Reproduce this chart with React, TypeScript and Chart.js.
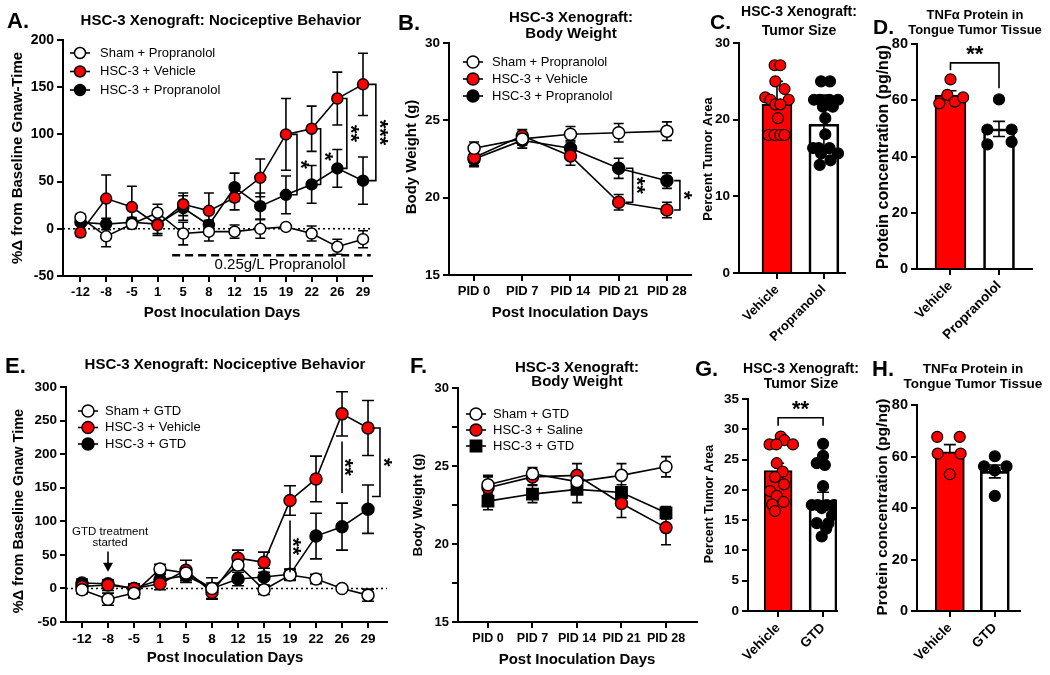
import { useEffect, useRef } from 'react';
import { Chart, registerables } from 'chart.js';

Chart.register(...registerables);

const FONT = "'Liberation Sans', Arial, Helvetica, sans-serif";
const RED = '#ff0000';
const WHITE = '#ffffff';
const BLACK = '#000000';
const CLEAR = 'rgba(0,0,0,0)';
const W = 1050;
const H = 675;
const YW = 50;

// ---------------- Panel A : nociceptive behaviour (propranolol) ----------------
const daysA = ['-12', '-8', '-5', '1', '5', '8', '12', '15', '19', '22', '26', '29'];
const aSham = [12, -8, 5, 17, -5, -3, -3, 0, 2, -5, -19, -11];
const aShamErr = [4, 11, 5, 9, 12, 10, 7, 10, 3, 8, 8, 9];
const aVeh = [-4, 32, 23, 4, 26, 19, 33, 54, 100, 106, 138, 153];
const aVehErr = [4, 25, 22, 11, 12, 19, 13, 20, 38, 24, 28, 33];
const aProp = [7, 5, 7, 5, 22, 4, 44, 24, 36, 47, 64, 51];
const aPropErr = [3, 6, 5, 10, 13, 5, 15, 14, 20, 20, 20, 25];

// ---------------- Panel B : body weight (propranolol) ----------------
const pidB = ['PID 0', 'PID 7', 'PID 14', 'PID 21', 'PID 28'];
const bSham = [23.2, 23.8, 24.1, 24.2, 24.3];
const bShamErr = [0.4, 0.4, 0.5, 0.6, 0.6];
const bVeh = [22.6, 24.0, 22.7, 19.7, 19.2];
const bVehErr = [0.5, 0.4, 0.6, 0.5, 0.5];
const bProp = [22.5, 23.7, 23.2, 21.9, 21.1];
const bPropErr = [0.5, 0.5, 0.5, 0.65, 0.5];

// ---------------- Panel C : tumor size (propranolol) ----------------
const groupsC = ['Vehicle', 'Propranolol'];
const cMeans = [22.0, 19.4];
const cErr = [3.0, 3.8];
const cVehVals = [27.1, 27.1, 25.0, 24.0, 22.9, 22.6, 22.6, 22.0, 22.0, 20.2, 18.0, 18.0, 18.0, 18.0];
const cVehJit = [-0.05, 0.07, -0.035, 0.16, -0.25, -0.14, 0.25, -0.035, 0.07, 0.02, -0.18, -0.05, 0.07, 0.16];
const cPropVals = [25.0, 25.0, 22.6, 22.6, 22.6, 22.6, 21.7, 21.7, 20.2, 18.1, 16.3, 16.3, 16.3, 15.6, 15.6, 14.7, 14.1];
const cPropJit = [-0.06, 0.13, -0.21, -0.09, 0.12, 0.3, -0.02, 0.19, 0.03, 0.03, -0.23, -0.11, 0.12, -0.06, 0.3, 0.14, -0.09];

// ---------------- Panel D : TNFa (propranolol) ----------------
const groupsD = ['Vehicle', 'Propranolol'];
const dMeans = [61.8, 49.8];
const dErr = [1.6, 2.7];
const dVehVals = [67.4, 58.9, 61.9, 59.5, 61.0];
const dVehJit = [0, -0.23, -0.065, 0.09, 0.26];
const dPropVals = [60.3, 49.6, 49.6, 44.3, 45.2];
const dPropJit = [0, -0.24, 0.26, -0.24, 0.26];

// ---------------- Panel E : nociceptive behaviour (GTD) ----------------
const daysE = ['-12', '-8', '-5', '1', '5', '8', '12', '15', '19', '22', '26', '29'];
const eSham = [-2, -16, -7, 29, 23, 0, 35, -2, 20, 14, 0, -10];
const eShamErr = [6, 9, 7, 7, 8, 8, 8, 7, 8, 7, 4, 9];
const eVeh = [3, 5, 0, 7, 27, -6, 45, 39, 131, 163, 260, 239];
const eVehErr = [8, 8, 7, 9, 15, 9, 12, 15, 22, 34, 33, 41];
const eGtd = [8, 7, 0, 13, 19, 0, 14, 17, 21, 78, 92, 118];
const eGtdErr = [6, 6, 6, 8, 10, 16, 10, 13, 8, 34, 35, 36];

// ---------------- Panel F : body weight (GTD) ----------------
const pidF = ['PID 0', 'PID 7', 'PID 14', 'PID 21', 'PID 28'];
const fSham = [23.8, 24.5, 24.0, 24.4, 24.95];
const fShamErr = [0.6, 0.4, 0.5, 0.75, 0.65];
const fSal = [23.6, 24.3, 24.4, 22.6, 21.05];
const fSalErr = [0.7, 0.5, 0.75, 0.9, 1.1];
const fGtd = [22.75, 23.2, 23.5, 23.3, 22.0];
const fGtdErr = [0.55, 0.55, 0.85, 0.5, 0.4];

// ---------------- Panel G : tumor size (GTD) ----------------
const groupsG = ['Vehicle', 'GTD'];
const gMeans = [23.2, 18.3];
const gErr = [1.2, 1.3];
const gVehVals = [28.8, 28.2, 27.5, 27.5, 27.5, 24.4, 23.0, 22.1, 20.9, 19.8, 19.0, 18.0, 17.6, 16.5];
const gVehJit = [0.06, 0.14, -0.19, -0.04, 0.33, -0.03, 0.1, -0.07, 0.13, -0.18, -0.03, 0.12, -0.13, -0.07];
const gGtdVals = [27.6, 25.6, 24.4, 24.1, 20.6, 17.5, 17.5, 17.5, 17.5, 17.0, 15.8, 14.5, 14.5, 13.6, 12.3];
const gGtdJit = [0, 0, -0.14, 0.04, 0, -0.25, -0.12, 0.08, 0.24, -0.03, 0.2, -0.14, 0.12, 0.07, -0.03];

// ---------------- Panel H : TNFa (GTD) ----------------
const groupsH = ['Vehicle', 'GTD'];
const hMeans = [61.8, 54.2];
const hErr = [2.8, 2.5];
const hVehVals = [67.6, 67.6, 61.1, 61.1, 53.1];
const hVehJit = [-0.28, 0.22, -0.27, 0.24, 0];
const hGtdVals = [60.1, 56.2, 56.2, 54.6, 44.7];
const hGtdJit = [0, -0.24, 0.26, 0, 0];

// ---------------- helpers ----------------
const fs = (size: number, bold = true) => `${bold ? 'bold ' : ''}${size}px ${FONT}`;
const fo = (size: number, bold = true) => ({ family: FONT, size, weight: bold ? 'bold' : 'normal' });

type Txt = {
  text: string; x: number; y: number; font: string;
  align?: CanvasTextAlign; baseline?: CanvasTextBaseline; rot?: number;
};
type VBr = { x0: number; x1: number; yTop: number; yBot: number; label: string; dx?: number };
type HBr = { xa: number; xb: number; y: number; ta: number; tb: number; label: string };
type Decor = {
  zeroLine?: boolean;
  cap?: number;
  vBrackets?: VBr[];
  hBrackets?: HBr[];
  dashes?: { xa: number; xb: number; y: number }[];
  dataTexts?: { text: string; x: number; y: number; font: string }[];
  arrows?: { x: number; y0: number; y1: number }[];
  legend?: { x: number; y: number; dy: number; tx: number; font: string };
  texts: Txt[];
};

const STAR = 22;
const STAR_SHIFT = 4.5;

function drawText(ctx: CanvasRenderingContext2D, t: Txt) {
  ctx.save();
  ctx.font = t.font;
  ctx.fillStyle = BLACK;
  ctx.textAlign = t.align ?? 'center';
  ctx.textBaseline = t.baseline ?? 'alphabetic';
  ctx.translate(t.x, t.y);
  if (t.rot) ctx.rotate(t.rot);
  ctx.fillText(t.text, 0, 0);
  ctx.restore();
}

function drawStars(ctx: CanvasRenderingContext2D, s: string, x: number, y: number, rotated: boolean) {
  if (rotated) {
    drawText(ctx, { text: s, x: x - STAR_SHIFT, y, font: fs(STAR), baseline: 'middle', rot: Math.PI / 2 });
  } else {
    drawText(ctx, { text: s, x, y: y + STAR_SHIFT, font: fs(STAR), baseline: 'middle' });
  }
}

function drawMarker(ctx: CanvasRenderingContext2D, x: number, y: number, style: string, fill: string, r: number) {
  ctx.save();
  ctx.fillStyle = fill;
  ctx.strokeStyle = BLACK;
  ctx.lineWidth = 1.5;
  ctx.beginPath();
  if (style === 'rect') {
    const s = r * Math.SQRT1_2;
    ctx.rect(x - s, y - s, 2 * s, 2 * s);
  } else {
    ctx.arc(x, y, r, 0, Math.PI * 2);
  }
  ctx.fill();
  ctx.stroke();
  ctx.restore();
}

function makeDecor(d: Decor) {
  return {
    id: 'decor',
    beforeDatasetsDraw(chart: any) {
      const ctx: CanvasRenderingContext2D = chart.ctx;
      const ys = chart.scales.y;
      const a = chart.chartArea;
      ctx.save();
      if (d.zeroLine) {
        const y0 = ys.getPixelForValue(0);
        ctx.setLineDash([2, 3]);
        ctx.lineWidth = 1.5;
        ctx.strokeStyle = BLACK;
        ctx.beginPath();
        ctx.moveTo(a.left, y0);
        ctx.lineTo(a.right, y0);
        ctx.stroke();
        ctx.setLineDash([]);
      }
      ctx.strokeStyle = BLACK;
      ctx.lineWidth = 1.6;
      const c = d.cap ?? 5;
      chart.data.datasets.forEach((ds: any, i: number) => {
        if (!ds.errors) return;
        const meta = chart.getDatasetMeta(i);
        meta.data.forEach((el: any, j: number) => {
          const v = ds.data[j].y;
          const e = ds.errors[j];
          const x = el.x;
          const yt = ys.getPixelForValue(v + e);
          const yb = ys.getPixelForValue(v - e);
          ctx.beginPath();
          ctx.moveTo(x, yt); ctx.lineTo(x, yb);
          ctx.moveTo(x - c, yt); ctx.lineTo(x + c, yt);
          ctx.moveTo(x - c, yb); ctx.lineTo(x + c, yb);
          ctx.stroke();
        });
      });
      ctx.restore();
    },
    afterDraw(chart: any) {
      const ctx: CanvasRenderingContext2D = chart.ctx;
      const px = (v: number) => chart.scales.x.getPixelForValue(v);
      const py = (v: number) => chart.scales.y.getPixelForValue(v);
      ctx.save();
      ctx.strokeStyle = BLACK;
      ctx.fillStyle = BLACK;
      ctx.lineWidth = 1.6;
      (d.dashes ?? []).forEach((s) => {
        ctx.save();
        ctx.setLineDash([8, 5]);
        ctx.lineWidth = 2.5;
        ctx.beginPath();
        ctx.moveTo(px(s.xa), py(s.y));
        ctx.lineTo(px(s.xb), py(s.y));
        ctx.stroke();
        ctx.restore();
      });
      (d.vBrackets ?? []).forEach((b) => {
        const x0 = px(b.x0), x1 = px(b.x1), yt = py(b.yTop), yb = py(b.yBot);
        ctx.beginPath();
        if (b.x0 !== b.x1) {
          ctx.moveTo(x0, yt); ctx.lineTo(x1, yt); ctx.lineTo(x1, yb); ctx.lineTo(x0, yb);
        } else {
          ctx.moveTo(x1, yt); ctx.lineTo(x1, yb);
        }
        ctx.stroke();
        drawStars(ctx, b.label, x1 + (b.dx ?? 8), (yt + yb) / 2, true);
      });
      (d.hBrackets ?? []).forEach((b) => {
        const xa = px(b.xa), xb = px(b.xb), y = py(b.y);
        ctx.beginPath();
        ctx.moveTo(xa, py(b.ta)); ctx.lineTo(xa, y); ctx.lineTo(xb, y); ctx.lineTo(xb, py(b.tb));
        ctx.stroke();
        drawStars(ctx, b.label, (xa + xb) / 2, y - 12, false);
      });
      (d.arrows ?? []).forEach((ar) => {
        const x = px(ar.x), y0 = py(ar.y0), y1 = py(ar.y1);
        ctx.beginPath();
        ctx.moveTo(x, y0); ctx.lineTo(x, y1 - 6);
        ctx.stroke();
        ctx.beginPath();
        ctx.moveTo(x - 5, y1 - 9); ctx.lineTo(x + 5, y1 - 9); ctx.lineTo(x, y1);
        ctx.closePath();
        ctx.fill();
      });
      (d.dataTexts ?? []).forEach((t) => {
        drawText(ctx, { text: t.text, x: px(t.x), y: py(t.y), font: t.font, baseline: 'middle' });
      });
      if (d.legend) {
        const L = d.legend;
        chart.data.datasets.forEach((ds: any, i: number) => {
          const y = L.y + i * L.dy;
          ctx.lineWidth = 1.6;
          ctx.strokeStyle = BLACK;
          ctx.beginPath();
          ctx.moveTo(L.x - 10, y); ctx.lineTo(L.x + 10, y);
          ctx.stroke();
          drawMarker(ctx, L.x, y, ds.pointStyle, ds.pointBackgroundColor, ds.pointRadius);
          drawText(ctx, { text: ds.label, x: L.tx, y, font: L.font, align: 'left', baseline: 'middle' });
        });
      }
      d.texts.forEach((t) => drawText(ctx, t));
      ctx.restore();
    },
  };
}

function lineDs(label: string, means: number[], errs: number[], fill: string, style = 'circle', r = 5.5) {
  return {
    type: 'line',
    label,
    data: means.map((v, i) => ({ x: i, y: v })),
    errors: errs,
    borderColor: BLACK,
    borderWidth: 1.6,
    pointBackgroundColor: fill,
    pointBorderColor: BLACK,
    pointBorderWidth: 1.5,
    pointRadius: r,
    pointStyle: style,
    fill: false,
    tension: 0,
  };
}

function barDs(means: number[], errs: number[], thickness: number) {
  return {
    type: 'bar',
    data: means.map((v, i) => ({ x: i, y: v })),
    errors: errs,
    backgroundColor: [RED, CLEAR],
    borderColor: BLACK,
    borderWidth: 2,
    barThickness: thickness,
    order: 2,
  };
}

function dotsDs(group: number, vals: number[], jit: number[], fill: string) {
  return {
    type: 'scatter',
    data: vals.map((v, i) => ({ x: group + jit[i], y: v })),
    pointRadius: 5.5,
    pointBackgroundColor: fill,
    pointBorderColor: BLACK,
    pointBorderWidth: 1.2,
    order: 1,
  };
}

type Panel = {
  type: 'line' | 'bar';
  area: { L: number; R: number; T: number; B: number };
  xh: number;
  xMin: number; xMax: number; xLabels: string[]; xRot: boolean; xFont: number;
  yMin: number; yMax: number; yStep: number; yFont: number; yMajor?: number;
  datasets: any[];
  decor: Decor;
};

function buildConfig(p: Panel): any {
  const grid = { display: true, drawOnChartArea: false, drawTicks: true, tickLength: 6, color: BLACK, lineWidth: 2, offset: false };
  const border = { display: true, color: BLACK, width: 2 };
  return {
    type: p.type,
    data: { datasets: p.datasets },
    options: {
      animation: false,
      responsive: false,
      events: [],
      layout: { padding: { left: p.area.L - YW, right: W - p.area.R, top: p.area.T, bottom: Math.max(0, H - p.area.B - p.xh) } },
      plugins: { legend: { display: false }, tooltip: { enabled: false }, title: { display: false } },
      scales: {
        x: {
          type: 'linear', min: p.xMin, max: p.xMax, offset: false,
          afterBuildTicks: (s: any) => { s.ticks = p.xLabels.map((_, i) => ({ value: i })); },
          afterFit: (s: any) => { s.height = p.xh; },
          ticks: {
            autoSkip: false, color: BLACK, font: fo(p.xFont), padding: 3,
            maxRotation: p.xRot ? 45 : 0, minRotation: p.xRot ? 45 : 0,
            callback: (v: number) => p.xLabels[Math.round(v)] ?? '',
          },
          grid, border,
        },
        y: {
          type: 'linear', min: p.yMin, max: p.yMax,
          afterFit: (s: any) => { s.width = YW; },
          ticks: {
            stepSize: p.yStep, color: BLACK, font: fo(p.yFont), padding: 3,
            callback: (v: number) => (p.yMajor && Math.abs(v % p.yMajor) > 1e-6 ? '' : String(v)),
          },
          grid, border,
        },
      },
    },
    plugins: [makeDecor(p.decor)],
  };
}

const ROT = -Math.PI / 2;

const panels: Panel[] = [
  // A
  {
    type: 'line', area: { L: 63, R: 372, T: 40, B: 276 }, xh: 40,
    xMin: -0.68, xMax: 11.35, xLabels: daysA, xRot: false, xFont: 13,
    yMin: -50, yMax: 200, yStep: 50, yFont: 14,
    datasets: [
      lineDs('Sham + Propranolol', aSham, aShamErr, WHITE),
      lineDs('HSC-3 + Vehicle', aVeh, aVehErr, RED),
      lineDs('HSC-3 + Propranolol', aProp, aPropErr, BLACK),
    ],
    decor: {
      zeroLine: true, cap: 5,
      dashes: [{ xa: 3.57, xb: 11.3, y: -28 }],
      dataTexts: [{ text: '0.25g/L Propranolol', x: 7.77, y: -38.5, font: fs(15, false) }],
      vBrackets: [
        { x0: 8.2, x1: 8.43, yTop: aVeh[8], yBot: aProp[8], label: '*' },
        { x0: 9.2, x1: 9.35, yTop: aVeh[9], yBot: aProp[9], label: '*' },
        { x0: 10.2, x1: 10.37, yTop: aVeh[10], yBot: aProp[10], label: '**' },
        { x0: 11.2, x1: 11.5, yTop: aVeh[11], yBot: aProp[11], label: '***' },
      ],
      legend: { x: 80, y: 53, dy: 18.5, tx: 100, font: fs(13, false) },
      texts: [
        { text: 'A.', x: 7, y: 28, font: fs(22), align: 'left' },
        { text: 'HSC-3 Xenograft: Nociceptive Behavior', x: 221, y: 25, font: fs(15) },
        { text: '%Δ from Baseline Gnaw-Time', x: 18, y: 158, font: fs(15), rot: ROT, baseline: 'middle' },
        { text: 'Post Inoculation Days', x: 222, y: 313, font: fs(15), baseline: 'middle' },
      ],
    },
  },
  // B
  {
    type: 'line', area: { L: 449, R: 691, T: 43, B: 275 }, xh: 40,
    xMin: -0.52, xMax: 4.5, xLabels: pidB, xRot: false, xFont: 13,
    yMin: 15, yMax: 30, yStep: 5, yFont: 13.5,
    datasets: [
      lineDs('Sham + Propranolol', bSham, bShamErr, WHITE, 'circle', 6),
      lineDs('HSC-3 + Vehicle', bVeh, bVehErr, RED, 'circle', 6),
      lineDs('HSC-3 + Propranolol', bProp, bPropErr, BLACK, 'circle', 6),
    ],
    decor: {
      cap: 5,
      vBrackets: [
        { x0: 3.15, x1: 3.29, yTop: bProp[3], yBot: bVeh[3], label: '**' },
        { x0: 4.15, x1: 4.27, yTop: bProp[4], yBot: bVeh[4], label: '*' },
      ],
      legend: { x: 473, y: 62, dy: 17, tx: 492, font: fs(13, false) },
      texts: [
        { text: 'B.', x: 398, y: 30, font: fs(22), align: 'left' },
        { text: 'HSC-3 Xenograft:', x: 571, y: 22, font: fs(15) },
        { text: 'Body Weight', x: 571, y: 37.5, font: fs(15) },
        { text: 'Body Weight (g)', x: 412, y: 157, font: fs(15), rot: ROT, baseline: 'middle' },
        { text: 'Post Inoculation Days', x: 570, y: 313, font: fs(15), baseline: 'middle' },
      ],
    },
  },
  // C
  {
    type: 'bar', area: { L: 739, R: 845, T: 43, B: 273 }, xh: 90,
    xMin: -0.81, xMax: 1.45, xLabels: groupsC, xRot: true, xFont: 13,
    yMin: 0, yMax: 30, yStep: 10, yFont: 13.5,
    datasets: [
      barDs(cMeans, cErr, 30),
      dotsDs(0, cVehVals, cVehJit, RED),
      dotsDs(1, cPropVals, cPropJit, BLACK),
    ],
    decor: {
      cap: 6,
      texts: [
        { text: 'C.', x: 710, y: 29, font: fs(21), align: 'left' },
        { text: 'HSC-3 Xenograft:', x: 799, y: 16, font: fs(14) },
        { text: 'Tumor Size', x: 799, y: 35, font: fs(14) },
        { text: 'Percent Tumor Area', x: 708, y: 159, font: fs(13), rot: ROT, baseline: 'middle' },
      ],
    },
  },
  // D
  {
    type: 'bar', area: { L: 917, R: 1032, T: 44, B: 269 }, xh: 90,
    xMin: -0.69, xMax: 1.68, xLabels: groupsD, xRot: true, xFont: 13.5,
    yMin: 0, yMax: 80, yStep: 20, yFont: 14.5,
    datasets: [
      barDs(dMeans, dErr, 31),
      dotsDs(0, dVehVals, dVehJit, RED),
      dotsDs(1, dPropVals, dPropJit, BLACK),
    ],
    decor: {
      cap: 6,
      hBrackets: [{ xa: 0, xb: 1, y: 73.3, ta: 70.7, tb: 64.3, label: '**' }],
      texts: [
        { text: 'D.', x: 873, y: 34, font: fs(21), align: 'left' },
        { text: 'TNFα Protein in', x: 975, y: 19, font: fs(13) },
        { text: 'Tongue Tumor Tissue', x: 975, y: 34, font: fs(13) },
        { text: 'Protein concentration (pg/ng)', x: 884, y: 157, font: fs(16), rot: ROT, baseline: 'middle' },
      ],
    },
  },
  // E
  {
    type: 'line', area: { L: 66, R: 387, T: 387, B: 622 }, xh: 40,
    xMin: -0.615, xMax: 11.73, xLabels: daysE, xRot: false, xFont: 13.5,
    yMin: -50, yMax: 300, yStep: 50, yFont: 13.5,
    datasets: [
      lineDs('Sham + GTD', eSham, eShamErr, WHITE, 'circle', 6),
      lineDs('HSC-3 + Vehicle', eVeh, eVehErr, RED, 'circle', 6),
      lineDs('HSC-3 + GTD', eGtd, eGtdErr, BLACK, 'circle', 6),
    ],
    decor: {
      zeroLine: true, cap: 6,
      arrows: [{ x: 1, y0: 55, y1: 25 }],
      dataTexts: [
        { text: 'GTD treatment', x: 1.08, y: 85, font: fs(11.5, false) },
        { text: 'started', x: 1.08, y: 68, font: fs(11.5, false) },
      ],
      vBrackets: [
        { x0: 8, x1: 8, yTop: eVeh[8] - eVehErr[8] - 8, yBot: eGtd[8] + eGtdErr[8] - 5, label: '**', dx: 7 },
        { x0: 10, x1: 10, yTop: eVeh[10] - eVehErr[10] - 8, yBot: eGtd[10] + eGtdErr[10] + 15, label: '**', dx: 7 },
        { x0: 11.15, x1: 11.46, yTop: eVeh[11], yBot: eGtd[11] + 19, label: '*', dx: 8 },
      ],
      legend: { x: 88, y: 411, dy: 16.5, tx: 105, font: fs(13, false) },
      texts: [
        { text: 'E.', x: 5, y: 373, font: fs(22), align: 'left' },
        { text: 'HSC-3 Xenograft: Nociceptive Behavior', x: 225, y: 369, font: fs(15) },
        { text: '%Δ from Baseline Gnaw Time', x: 19, y: 511, font: fs(14.5), rot: ROT, baseline: 'middle' },
        { text: 'Post Inoculation Days', x: 225, y: 658, font: fs(15), baseline: 'middle' },
      ],
    },
  },
  // F
  {
    type: 'line', area: { L: 458, R: 697, T: 388, B: 622 }, xh: 40,
    xMin: -0.674, xMax: 4.697, xLabels: pidF, xRot: false, xFont: 12.5,
    yMin: 15, yMax: 30, yStep: 2.5, yMajor: 5, yFont: 13,
    datasets: [
      lineDs('Sham + GTD', fSham, fShamErr, WHITE, 'circle', 6),
      lineDs('HSC-3 + Saline', fSal, fSalErr, RED, 'circle', 6),
      lineDs('HSC-3 + GTD', fGtd, fGtdErr, BLACK, 'rect', 8),
    ],
    decor: {
      cap: 5,
      legend: { x: 476, y: 414, dy: 16, tx: 493, font: fs(13, false) },
      texts: [
        { text: 'F.', x: 410, y: 373, font: fs(22), align: 'left' },
        { text: 'HSC-3 Xenograft:', x: 577, y: 372, font: fs(15) },
        { text: 'Body Weight', x: 577, y: 386, font: fs(15) },
        { text: 'Body Weight (g)', x: 418, y: 505, font: fs(13.5), rot: ROT, baseline: 'middle' },
        { text: 'Post Inoculation Days', x: 577, y: 660, font: fs(15), baseline: 'middle' },
      ],
    },
  },
  // G
  {
    type: 'bar', area: { L: 748, R: 837, T: 399, B: 611 }, xh: 64,
    xMin: -0.67, xMax: 1.31, xLabels: groupsG, xRot: true, xFont: 13.5,
    yMin: 0, yMax: 35, yStep: 5, yFont: 13.5,
    datasets: [
      barDs(gMeans, gErr, 28),
      dotsDs(0, gVehVals, gVehJit, RED),
      dotsDs(1, gGtdVals, gGtdJit, BLACK),
    ],
    decor: {
      cap: 6,
      hBrackets: [{ xa: 0, xb: 1, y: 31.9, ta: 30.6, tb: 30.6, label: '**' }],
      texts: [
        { text: 'G.', x: 695, y: 376, font: fs(22), align: 'left' },
        { text: 'HSC-3 Xenograft:', x: 801, y: 373, font: fs(14) },
        { text: 'Tumor Size', x: 801, y: 388, font: fs(14) },
        { text: 'Percent Tumor Area', x: 710, y: 504, font: fs(12.5), rot: ROT, baseline: 'middle' },
      ],
    },
  },
  // H
  {
    type: 'bar', area: { L: 917, R: 1020, T: 405, B: 611 }, xh: 64,
    xMin: -0.73, xMax: 1.56, xLabels: groupsH, xRot: true, xFont: 13.5,
    yMin: 0, yMax: 80, yStep: 20, yFont: 14.5,
    datasets: [
      barDs(hMeans, hErr, 29),
      dotsDs(0, hVehVals, hVehJit, RED),
      dotsDs(1, hGtdVals, hGtdJit, BLACK),
    ],
    decor: {
      cap: 6,
      texts: [
        { text: 'H.', x: 872, y: 376, font: fs(22), align: 'left' },
        { text: 'TNFα Protein in', x: 973, y: 373, font: fs(13.5) },
        { text: 'Tongue Tumor Tissue', x: 973, y: 388, font: fs(13.5) },
        { text: 'Protein concentration (pg/ng)', x: 883, y: 507, font: fs(15.5), rot: ROT, baseline: 'middle' },
      ],
    },
  },
];

function PanelCanvas({ panel }: { panel: Panel }) {
  const ref = useRef<HTMLCanvasElement>(null);
  useEffect(() => {
    if (!ref.current) return;
    const chart = new Chart(ref.current, buildConfig(panel));
    return () => chart.destroy();
  }, [panel]);
  return (
    <canvas
      ref={ref}
      width={W}
      height={H}
      style={{ position: 'absolute', left: 0, top: 0, width: W, height: H, pointerEvents: 'none' }}
    />
  );
}

export default function App() {
  return (
    <div style={{ position: 'absolute', left: 0, top: 0, width: W, height: H, background: '#fff', overflow: 'hidden' }}>
      {panels.map((p, i) => (
        <PanelCanvas key={i} panel={p} />
      ))}
    </div>
  );
}
